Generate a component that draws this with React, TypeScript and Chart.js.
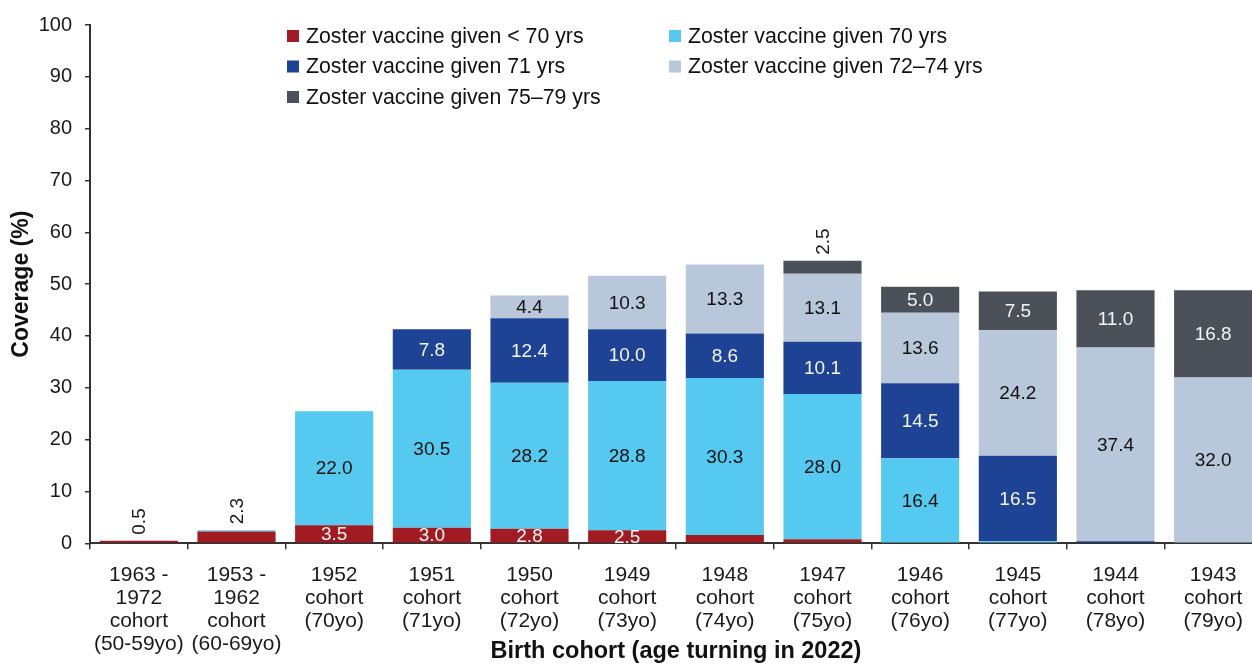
import React, { useEffect, useRef } from "react";
import { Chart, registerables } from "chart.js";

Chart.register(...registerables);

const FONT = '"Liberation Sans", Arial, Helvetica, sans-serif';

// Categories (multi-line tick labels)
const categories: string[][] = [
  ["1963 -", "1972", "cohort", "(50-59yo)"],
  ["1953 -", "1962", "cohort", "(60-69yo)"],
  ["1952", "cohort", "(70yo)"],
  ["1951", "cohort", "(71yo)"],
  ["1950", "cohort", "(72yo)"],
  ["1949", "cohort", "(73yo)"],
  ["1948", "cohort", "(74yo)"],
  ["1947", "cohort", "(75yo)"],
  ["1946", "cohort", "(76yo)"],
  ["1945", "cohort", "(77yo)"],
  ["1944", "cohort", "(78yo)"],
  ["1943", "cohort", "(79yo)"],
];

const seriesLabels = [
  "Zoster vaccine given < 70 yrs",
  "Zoster vaccine given 70 yrs",
  "Zoster vaccine given 71 yrs",
  "Zoster vaccine given 72\u201374 yrs",
  "Zoster vaccine given 75\u201379 yrs",
];

const givenUnder70 = [0.5, 2.3, 3.5, 3.0, 2.8, 2.5, 1.6, 0.8, 0, 0, 0, 0];
const given70 = [0, 0.2, 22.0, 30.5, 28.2, 28.8, 30.3, 28.0, 16.4, 0.4, 0, 0];
const given71 = [0, 0, 0, 7.8, 12.4, 10.0, 8.6, 10.1, 14.5, 16.5, 0.4, 0];
const given72to74 = [0, 0, 0, 0, 4.4, 10.3, 13.3, 13.1, 13.6, 24.2, 37.4, 32.0];
const given75to79 = [0, 0, 0, 0, 0, 0, 0, 2.5, 5.0, 7.5, 11.0, 16.8];

const yTicks = [0, 10, 20, 30, 40, 50, 60, 70, 80, 90, 100];

const seriesColors = ["#A01C22", "#55C9F0", "#1E4294", "#B8C7D9", "#4B5059"];
const labelColors = ["#F4F4F4", "#111111", "#F4F4F4", "#111111", "#F4F4F4"];

const valueLabelsPlugin = {
  id: "valueLabels",
  afterDatasetsDraw(chart: any) {
    const ctx = chart.ctx;
    const n = chart.data.labels.length;
    ctx.save();
    ctx.font = `19px ${FONT}`;
    for (let i = 0; i < n; i++) {
      let topDs = -1;
      let topY = Infinity;
      chart.data.datasets.forEach((ds: any, d: number) => {
        const v = ds.data[i];
        const el = chart.getDatasetMeta(d).data[i];
        if (v > 0 && el) topY = Math.min(topY, el.y);
        if (v >= 0.3) topDs = d;
      });
      chart.data.datasets.forEach((ds: any, d: number) => {
        const v = ds.data[i];
        if (!v) return;
        const el = chart.getDatasetMeta(d).data[i];
        const txt = v.toFixed(1);
        if (d === topDs && v < 3) {
          ctx.save();
          ctx.translate(el.x, topY - 6);
          ctx.rotate(-Math.PI / 2);
          ctx.textAlign = "left";
          ctx.textBaseline = "middle";
          ctx.fillStyle = "#1a1a1a";
          ctx.fillText(txt, 0, 1);
          ctx.restore();
        } else if (v >= 2) {
          ctx.textAlign = "center";
          ctx.textBaseline = "middle";
          ctx.fillStyle = labelColors[d];
          ctx.fillText(txt, el.x, (el.y + el.base) / 2 + 1);
        }
      });
    }
    ctx.restore();
  },
};

const gridLegendPlugin = {
  id: "gridLegend",
  afterDraw(chart: any) {
    const ctx = chart.ctx;
    const colX = [287, 669];
    const rowY = [36, 66.5, 97];
    ctx.save();
    ctx.font = `21.3px ${FONT}`;
    ctx.textBaseline = "middle";
    ctx.textAlign = "left";
    chart.data.datasets.forEach((ds: any, d: number) => {
      const cx = colX[d % 2];
      const cy = rowY[Math.floor(d / 2)];
      ctx.fillStyle = ds.backgroundColor;
      ctx.fillRect(cx, cy - 6, 12, 12);
      ctx.fillStyle = "#111111";
      ctx.fillText(ds.label, cx + 19, cy + 1);
    });
    ctx.restore();
  },
};

export default function App() {
  const canvasRef = useRef<HTMLCanvasElement | null>(null);

  useEffect(() => {
    if (!canvasRef.current) return;
    const seriesData = [givenUnder70, given70, given71, given72to74, given75to79];
    const chart = new Chart(canvasRef.current, {
      type: "bar",
      data: {
        labels: categories,
        datasets: seriesData.map((data, d) => ({
          label: seriesLabels[d],
          data,
          backgroundColor: seriesColors[d],
          borderWidth: 0,
          barPercentage: 0.8,
          categoryPercentage: 1.0,
        })),
      },
      options: {
        animation: false,
        responsive: true,
        maintainAspectRatio: false,
        layout: { padding: { top: 24, right: 0, bottom: 0, left: 0 } },
        plugins: {
          legend: { display: false },
          tooltip: { enabled: false },
        },
        scales: {
          x: {
            stacked: true,
            afterFit: (scale: any) => {
              scale.height = 122.7;
            },
            grid: {
              display: true,
              drawOnChartArea: false,
              drawTicks: true,
              tickLength: 6,
              color: "#333333",
              lineWidth: 1.5,
              offset: true,
            },
            border: { display: true, color: "#333333", width: 2 },
            ticks: {
              color: "#1a1a1a",
              font: { family: FONT, size: 21, lineHeight: 1.095 },
              padding: 14,
              maxRotation: 0,
              autoSkip: false,
            },
            title: {
              display: true,
              text: "Birth cohort (age turning in 2022)",
              color: "#111111",
              font: { family: FONT, size: 23.5, weight: "bold", lineHeight: 1.2 },
              padding: { top: 0, bottom: 0 },
            },
          },
          y: {
            stacked: true,
            min: 0,
            max: 100,
            afterFit: (scale: any) => {
              scale.width = 90;
            },
            afterBuildTicks: (scale: any) => {
              scale.ticks = yTicks.map((v) => ({ value: v }));
            },
            grid: {
              display: true,
              drawOnChartArea: false,
              drawTicks: true,
              tickLength: 5,
              color: "#333333",
              lineWidth: 1.5,
            },
            border: { display: true, color: "#333333", width: 2 },
            ticks: {
              color: "#1a1a1a",
              font: { family: FONT, size: 20 },
              padding: 13,
            },
            title: {
              display: true,
              text: "Coverage (%)",
              color: "#111111",
              font: { family: FONT, size: 23, weight: "bold", lineHeight: 1.2 },
              padding: { top: 8, bottom: 0 },
            },
          },
        },
      },
      plugins: [valueLabelsPlugin, gridLegendPlugin],
    });
    return () => chart.destroy();
  }, []);

  return (
    <div
      style={{
        position: "fixed",
        left: 0,
        top: 0,
        width: 1262,
        height: 666,
        background: "#ffffff",
      }}
    >
      <canvas ref={canvasRef} />
    </div>
  );
}
